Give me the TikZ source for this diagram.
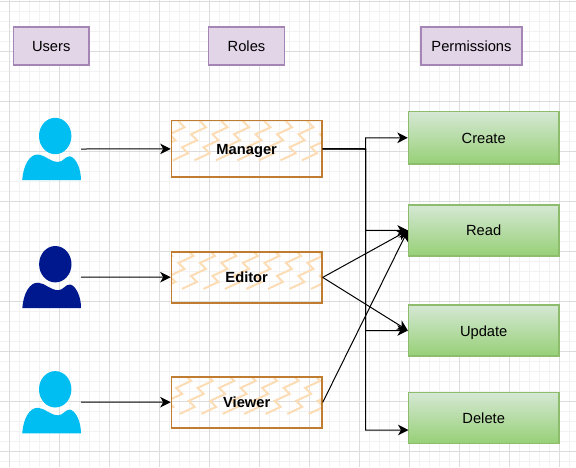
\documentclass[tikz,border=0pt]{standalone}
\usepackage{fontspec}
\setmainfont{Liberation Sans}
\usetikzlibrary{arrows.meta}
\definecolor{title purple}{HTML}{e1d5e7}
\definecolor{title border}{HTML}{a585b5}
\definecolor{role border}{HTML}{c07d32}
\definecolor{role zigzag}{HTML}{fcdcb4}
\definecolor{perm top}{HTML}{d5e8d4}
\definecolor{perm bottom}{HTML}{97d077}
\definecolor{perm border}{HTML}{8cbc6c}
\definecolor{user cyan}{HTML}{00bef2}
\definecolor{user navy}{HTML}{00188d}
\definecolor{grid major}{HTML}{dcdcdc}
\definecolor{grid minor}{HTML}{f2f2f2}

\begin{document}
\begin{tikzpicture}[x=1pt, y=-1pt, line width=1pt, font={\fontsize{14.7}{17}\selectfont}]
            \tikzset{titlebox/.style={draw=title border, fill=title purple, line width=1.2pt, minimum height=38pt, inner sep=0pt, text height=11pt, text depth=0pt}}
            \tikzset{rolebox/.style={draw=role border, line width=1.5pt, minimum width=150.5pt, inner sep=0pt, text height=11pt, text depth=0pt, font={\fontsize{14.7}{17}\selectfont\bfseries},
                path picture={
                    \foreach \k in {-5,...,8} {
                        \draw[role zigzag, line width=2pt, shift={(path picture bounding box.south west)}]
                            (-22+21.5*\k, 6) \foreach \j in {1,...,8} { -- ++(15, -7) -- ++(-6, -6) };
                    }
                }}}
            \tikzset{permbox/.style={draw=perm border, top color=perm top, bottom color=perm bottom, line width=1.2pt, minimum width=150.5pt, minimum height=51pt, inner sep=0pt, text height=11pt, text depth=0pt}}
            \tikzset{link/.style={-{Stealth[length=10.5pt, width=10.5pt, inset=3pt]}, black}}
            \tikzset{usericon/.pic={
                \fill[pic actions] (0, 0) ellipse [x radius=16.2, y radius=18.2];
                \fill[pic actions] (-33, 44) .. controls (-32, 30) and (-26, 18) .. (-17, 18.5)
                    .. controls (-10, 19) and (-5, 26) .. (3, 26)
                    .. controls (8, 26) and (10, 20) .. (14.7, 20.3)
                    .. controls (20, 21) and (26, 32) .. (25.7, 44) -- cycle;
            }}

            \useasboundingbox (0, 0) rectangle (576, 467);
            \fill[white] (0, 0) rectangle (576, 467);
            % background grid
            \foreach \gx in {-0.5, 9.5, ..., 579.5} { \draw[grid minor] (\gx, 0) -- (\gx, 467); }
            \foreach \gy in {1, 11, ..., 461} { \draw[grid minor] (0, \gy) -- (576, \gy); }
            \foreach \gx in {9.5, 59.5, ..., 559.5} { \draw[grid major] (\gx, 0) -- (\gx, 467); }
            \foreach \gy in {1, 51, ..., 451} { \draw[grid major] (0, \gy) -- (576, \gy); }

            \node[titlebox, minimum width=75.5pt] (users) at (51.2, 46) {Users};
            \node[titlebox, minimum width=75.5pt] (roles) at (246.5, 46) {Roles};
            \node[titlebox, minimum width=101pt] (permissions) at (471.5, 46) {Permissions};

            \node[rolebox, minimum height=56.5pt] (manager) at (246.7, 148.8) {Manager};
            \node[rolebox, minimum height=51.2pt] (editor) at (246.7, 277.4) {Editor};
            \node[rolebox, minimum height=51.2pt] (viewer) at (246.7, 402.4) {Viewer};

            \node[permbox, minimum height=52.5pt] (create) at (483.7, 137.8) {Create};
            \node[permbox] (read) at (483.7, 230.4) {Read};
            \node[permbox] (update) at (483.7, 330.5) {Update};
            \node[permbox] (delete) at (483.7, 417.8) {Delete};

            \pic[fill=user cyan] at (55.2, 136) {usericon};
            \pic[fill=user navy] at (55.3, 264.2) {usericon};
            \pic[fill=user cyan] at (55.2, 389.3) {usericon};

            \coordinate (user1) at (81, 149);
            \coordinate (user2) at (81, 277);
            \coordinate (user3) at (81, 402);
            \coordinate (trunk) at (365.5, 149);
            \coordinate (delete in) at (408.5, 430);

            \draw[link] (user1) -- (manager);
            \draw[link] (user2) -- (editor);
            \draw[link] (user3) -- (viewer);

            \draw[link] (manager.east) -- (trunk) |- (create.west);
            \draw[link] (manager.east) -- (trunk) |- (read.west);
            \draw[link] (manager.east) -- (trunk) |- (update.west);
            \draw[link] (manager.east) -- (trunk) |- (delete in);

            \draw[link] (editor.east) -- (read.west);
            \draw[link] (editor.east) -- (update.west);
            \draw[link] (viewer.east) -- (read.west);
        \end{tikzpicture}
\end{document}
